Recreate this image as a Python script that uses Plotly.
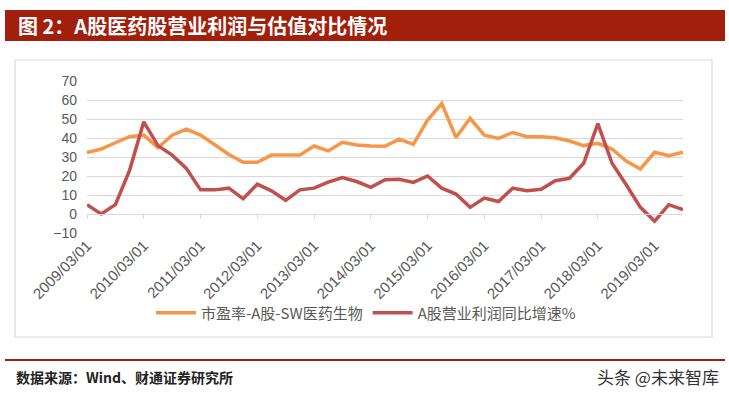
import plotly.graph_objects as go

# ---------------- data ----------------
dates = []
for yr in range(2009, 2020):
    for m in ["03", "06", "09", "12"]:
        dates.append(f"{yr}/{m}/01")
dates = dates[:43]  # 2009/03/01 .. 2019/09/01

pe_values = [32.3, 34.2, 37.5, 40.7, 41.5, 34.9, 41.5, 44.7, 41.5, 36.3,
             31.3, 27.2, 27.2, 31.0, 31.0, 31.0, 35.8, 33.2, 37.7, 36.3,
             35.8, 35.6, 39.4, 36.6, 49.4, 58.1, 40.3, 50.3, 41.5, 39.8,
             42.9, 40.7, 40.7, 40.1, 38.4, 36.0, 37.2, 34.2, 27.9, 23.7,
             32.5, 30.7, 32.5]

profit_growth = [4.9, 0.0, 4.9, 23.0, 48.5, 36.0, 31.0, 24.0, 12.7, 12.7,
                 13.6, 8.0, 15.7, 12.2, 7.2, 12.7, 13.6, 16.8, 19.2, 17.1,
                 14.0, 18.0, 18.3, 16.6, 20.0, 13.6, 10.5, 3.5, 8.4, 6.6,
                 13.6, 12.2, 13.0, 17.5, 18.8, 26.7, 47.6, 26.7, 15.4, 3.5,
                 -3.8, 4.9, 2.3]

tick_labels = [f"{yr}/03/01" for yr in range(2009, 2020)]
y_ticks = [-10, 0, 10, 20, 30, 40, 50, 60, 70]

series_names = ["市盈率-A股-SW医药生物", "A股营业利润同比增速%"]
title_text = "图 2：A股医药股营业利润与估值对比情况"
source_text = "数据来源：Wind、财通证券研究所"
watermark_text = "头条 @未来智库"

# ---------------- layout helpers ----------------
W, H = 729, 395
ML, MR, MT, MB = 87, 46, 81, 162
PW = W - ML - MR
PH = H - MT - MB


def px(x):
    return (x - ML) / PW


def py(y):
    return (H - MB - y) / PH


ORANGE = "#F79646"
RED = "#C0504D"
BANNER = "#A21F0B"
GRID = "#D9D9D9"
TXT = "#595959"
CJK = "Noto Sans CJK SC"
LAT = "Liberation Sans, Arial, sans-serif"

fig = go.Figure()
fig.add_trace(go.Scatter(x=dates, y=pe_values, mode="lines", name=series_names[0],
                         line=dict(color=ORANGE, width=3.5), xaxis="x", yaxis="y"))
fig.add_trace(go.Scatter(x=dates, y=profit_growth, mode="lines", name=series_names[1],
                         line=dict(color=RED, width=3.5), xaxis="x2", yaxis="y"))

fig.update_layout(
    width=W, height=H,
    margin=dict(l=ML, r=MR, t=MT, b=MB),
    paper_bgcolor="white", plot_bgcolor="white",
    showlegend=True,
    legend=dict(orientation="h", x=px(366), xanchor="center", y=py(313), yanchor="middle",
                font=dict(family=CJK, size=15, color=TXT), bgcolor="rgba(0,0,0,0)",
                itemwidth=40, tracegroupgap=0),
    xaxis=dict(type="category", categoryorder="array", categoryarray=dates,
               range=[0, len(dates) - 1], tickmode="array", tickvals=tick_labels,
               ticktext=tick_labels, tickangle=-45, showgrid=False, zeroline=False,
               showline=False, ticks="", ticklabelstandoff=0,
               tickfont=dict(family=LAT, size=15, color=TXT)),
    xaxis2=dict(type="category", categoryorder="array", categoryarray=dates,
                overlaying="x", anchor="free", position=10 / 80,
                range=[0, len(dates) - 1], tickmode="array", tickvals=tick_labels,
                showticklabels=False, ticks="outside", ticklen=4, tickcolor=GRID,
                tickwidth=1, showline=True, linecolor=GRID, linewidth=1,
                showgrid=False, zeroline=False),
    yaxis=dict(range=[-10, 70], tickmode="array", tickvals=y_ticks, showgrid=True,
               gridcolor=GRID, gridwidth=1.3, zeroline=False, showline=False, ticks="",
               ticklabelstandoff=9,
               tickfont=dict(family=LAT, size=14, color=TXT)),
)

shapes = [
    dict(type="rect", xref="paper", yref="paper", x0=px(5), x1=px(725), y0=py(41), y1=py(10),
         fillcolor=BANNER, line=dict(width=0), layer="below"),
    dict(type="rect", xref="paper", yref="paper", x0=px(15), x1=px(712), y0=py(337), y1=py(60),
         fillcolor="rgba(0,0,0,0)", line=dict(color=GRID, width=1.2), layer="below"),
    dict(type="line", xref="paper", yref="paper", x0=px(5), x1=px(725), y0=py(360), y1=py(360),
         line=dict(color=BANNER, width=2)),
]
fig.update_layout(shapes=shapes)

fig.add_annotation(xref="paper", yref="paper", x=px(16), y=py(26), xanchor="left",
                   yanchor="middle", showarrow=False, text=f"<b>{title_text}</b>",
                   font=dict(family=CJK, size=20, color="white"))
fig.add_annotation(xref="paper", yref="paper", x=px(14), y=py(377), xanchor="left",
                   yanchor="middle", showarrow=False, text=f"<b>{source_text}</b>",
                   font=dict(family=CJK, size=14, color="#222222"))
fig.add_annotation(xref="paper", yref="paper", x=px(721), y=py(376), xanchor="right",
                   yanchor="middle", showarrow=False, text=watermark_text,
                   font=dict(family=CJK, size=17, color="#333333"))

fig.write_html("out.html", config={"displayModeBar": False},
               post_script="document.body.style.margin='0';document.body.style.overflow='hidden';")
